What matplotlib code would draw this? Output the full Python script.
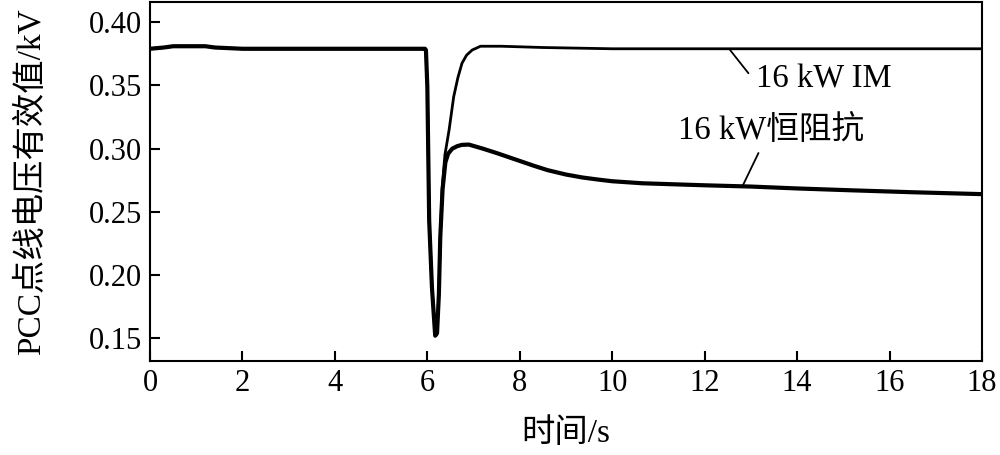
import numpy as np
import matplotlib
matplotlib.use('Agg')
import matplotlib.pyplot as plt

plt.rcParams['font.family'] = ['Liberation Serif', 'Noto Sans CJK SC']

# 16 kW IM load
im_t = [0, 0.3, 0.5, 1.2, 1.4, 2.0, 3.0, 4.0, 5.0, 5.95, 5.97, 6.0, 6.04, 6.1, 6.17,
        6.21, 6.25, 6.28, 6.32, 6.38, 6.47, 6.57, 6.66, 6.75, 6.85, 6.97, 7.15, 7.6, 8.5,
        10, 12, 14, 16, 18]
im_v = [0.379, 0.380, 0.381, 0.381, 0.380, 0.379, 0.379, 0.379, 0.379, 0.379, 0.378, 0.349,
        0.243, 0.190, 0.154, 0.156, 0.185, 0.230, 0.268, 0.295, 0.3146, 0.341, 0.356, 0.3676,
        0.374, 0.378, 0.381, 0.381, 0.380, 0.379, 0.379, 0.379, 0.379, 0.379]

# 16 kW constant impedance load
ci_t = [0, 0.3, 0.5, 1.2, 1.4, 2.0, 3.0, 4.0, 5.0, 5.95, 5.97, 6.0, 6.04, 6.1, 6.17,
        6.21, 6.25, 6.28, 6.33, 6.39, 6.45, 6.54, 6.65, 6.75, 6.9, 7.2, 7.5, 7.9, 8.3, 8.6,
        9.0, 9.35, 9.7, 10.0, 10.65, 12.0, 13.0, 14.0, 15.2, 16.5, 18]
ci_v = [0.379, 0.380, 0.381, 0.381, 0.380, 0.379, 0.379, 0.379, 0.379, 0.379, 0.378, 0.349,
        0.243, 0.190, 0.152, 0.154, 0.185, 0.230, 0.268, 0.289, 0.296, 0.300, 0.302, 0.303,
        0.3032, 0.300, 0.2965, 0.2915, 0.2865, 0.2830, 0.2795, 0.2772, 0.2755, 0.2742,
        0.2726, 0.271, 0.270, 0.2685, 0.267, 0.2655, 0.264]

xticks = np.arange(0, 19, 2)
yticks = [0.15, 0.20, 0.25, 0.30, 0.35, 0.40]

fig = plt.figure(figsize=(10, 4.55), dpi=100)
ax = fig.add_axes([0.15, 0.2066, 0.832, 0.789])

ax.plot(ci_t, ci_v, color='black', lw=3.0)
ax.plot(im_t, im_v, color='black', lw=2.0)

ax.set_xlim(0, 18)
ax.set_ylim(0.132, 0.416)
ax.set_xticks(xticks)
ax.set_xticklabels([str(x) for x in xticks])
ax.set_yticks(yticks)
ax.set_yticklabels(['%.2f' % y for y in yticks])
ax.tick_params(direction='in', length=7, width=1.5, labelsize=22, pad=6)
for sp in ax.spines.values():
    sp.set_linewidth(1.5)

ax.set_xlabel('时间/s', fontsize=24, labelpad=14)
ax.set_ylabel('PCC点线电压有效值/kV', fontsize=24, labelpad=30)

# annotations with leader lines
ax.annotate('16 kW IM', xy=(12.55, 0.378), xytext=(13.1, 0.355),
            fontsize=23.5, va='center', ha='left',
            arrowprops=dict(arrowstyle='-', color='black', lw=1.3,
                            shrinkA=5, shrinkB=0, relpos=(0, 0.4)))
ax.annotate('16 kW恒阻抗', xy=(12.83, 0.2712), xytext=(11.42, 0.314),
            fontsize=23.5, va='center', ha='left',
            arrowprops=dict(arrowstyle='-', color='black', lw=1.3,
                            shrinkA=3, shrinkB=0, relpos=(0.45, 0)))

fig.savefig('out.png', dpi=100)
